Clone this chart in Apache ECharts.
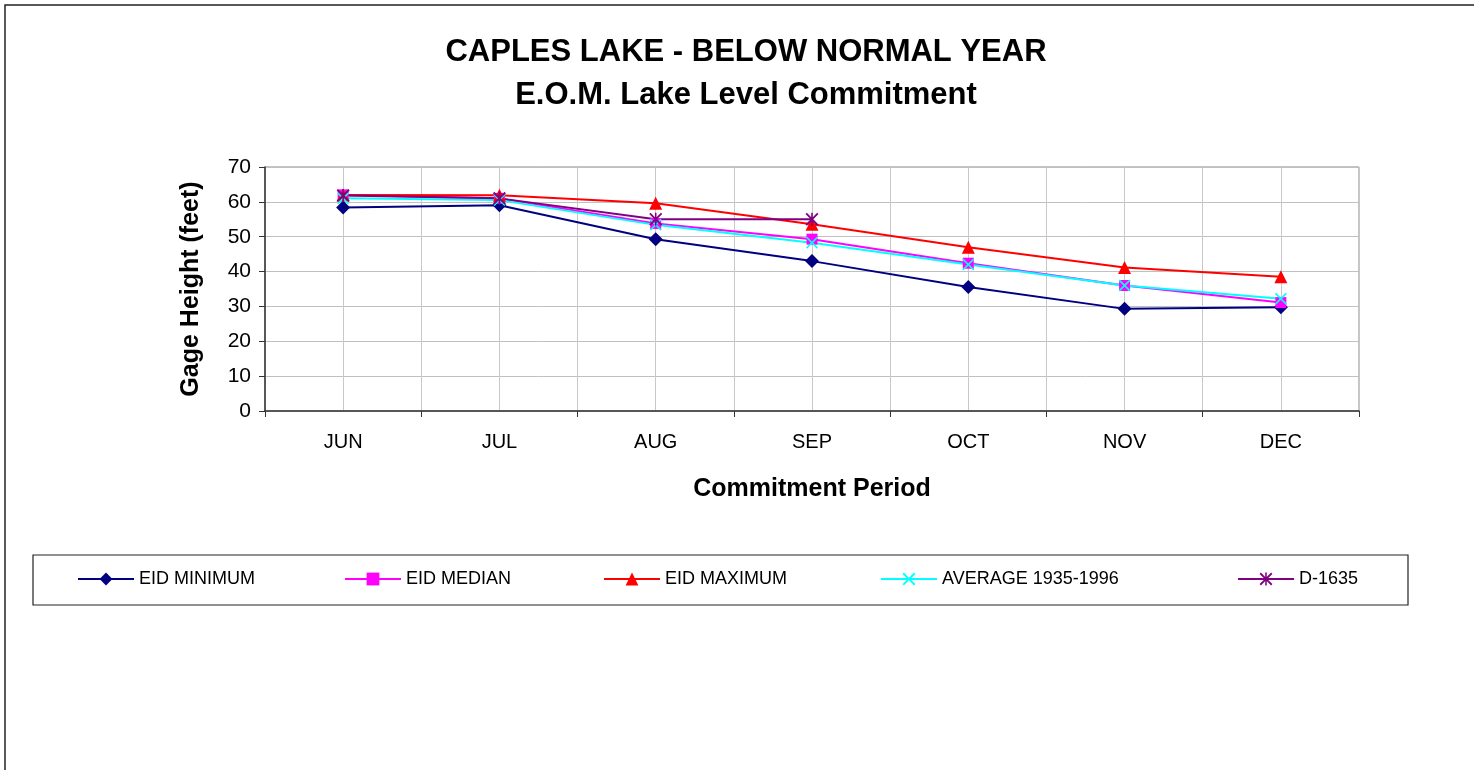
<!DOCTYPE html>
<html>
<head>
<meta charset="utf-8">
<title>Caples Lake - Below Normal Year</title>
<script src="https://cdn.jsdelivr.net/npm/echarts@6/dist/echarts.min.js"></script>
<style>
  html, body { margin: 0; padding: 0; background: #fff; }
  #chart { width: 1474px; height: 770px; }
</style>
</head>
<body>
<div id="chart"></div>
<script>
// 数据
var months = ['JUN', 'JUL', 'AUG', 'SEP', 'OCT', 'NOV', 'DEC']
var eidMinimum = [58.4, 59.0, 49.3, 43.0, 35.6, 29.3, 29.8]
var eidMedian = [62.0, 61.0, 53.8, 49.3, 42.4, 36.0, 31.1]
var eidMaximum = [62.0, 61.9, 59.6, 53.6, 47.0, 41.2, 38.5]
var average1935 = [61.0, 60.5, 53.4, 48.3, 42.0, 36.0, 32.2]
var d1635 = [61.8, 61.0, 55.0, 55.0, null, null, null]
var seriesNames = ['EID MINIMUM', 'EID MEDIAN', 'EID MAXIMUM', 'AVERAGE 1935-1996', 'D-1635']

var xMark = 'path://M0,1 L1,0 L5,4 L9,0 L10,1 L6,5 L10,9 L9,10 L5,6 L1,10 L0,9 L4,5 Z'
var starMark = xMark + ' M4.4,0 L5.6,0 L5.6,10 L4.4,10 Z'
var font = 'Liberation Sans, Arial, sans-serif'

var chart = echarts.init(document.getElementById('chart'))

function lineSeries(name, data, color, symbol, size) {
  return {
    name: name,
    type: 'line',
    xAxisIndex: 0,
    data: data,
    symbol: symbol,
    symbolSize: size,
    connectNulls: false,
    animation: false,
    lineStyle: { color: color, width: 2 },
    itemStyle: { color: color }
  }
}

// 每个图例单独放置
var legendLeft = [77, 344, 603, 880, 1237]
var legends = seriesNames.map(function (n, i) {
  return {
    data: [n],
    left: legendLeft[i],
    top: 570,
    padding: 0,
    itemWidth: 56,
    itemHeight: 16,
    itemGap: 0,
    selectedMode: false,
    textStyle: { fontFamily: font, fontSize: 18, color: '#000' }
  }
})

chart.setOption({
  backgroundColor: '#fff',
  title: {
    text: 'CAPLES LAKE - BELOW NORMAL YEAR\nE.O.M. Lake Level Commitment',
    left: 741,
    textAlign: 'center',
    top: 26,
    textStyle: { fontFamily: font, fontSize: 31, fontWeight: 'bold', color: '#000', lineHeight: 43 }
  },
  graphic: [
    { type: 'rect', shape: { x: 5, y: 5, width: 1520, height: 820 }, style: { fill: 'none', stroke: '#222', lineWidth: 1.5 }, silent: true },
    { type: 'rect', shape: { x: 33, y: 555, width: 1375, height: 50 }, style: { fill: 'none', stroke: '#222', lineWidth: 1.2 }, silent: true }
  ],
  legend: legends,
  grid: {
    left: 265,
    right: 115,
    top: 167,
    bottom: 359,
    show: true,
    borderColor: '#888',
    borderWidth: 1
  },
  xAxis: [
    {
      type: 'category',
      data: months,
      boundaryGap: true,
      name: 'Commitment Period',
      nameLocation: 'middle',
      nameGap: 66,
      nameTextStyle: { fontFamily: font, fontSize: 25, fontWeight: 'bold', color: '#000' },
      axisLine: { lineStyle: { color: '#333', width: 1.5 } },
      axisTick: { show: true, length: 6, lineStyle: { color: '#333' } },
      axisLabel: { fontFamily: font, fontSize: 20, color: '#000', margin: 21 },
      splitLine: { show: false }
    },
    {
      // 每半个类目一条竖网格线
      type: 'value',
      min: 0,
      max: 14,
      interval: 1,
      position: 'bottom',
      axisLine: { show: false },
      axisTick: { show: false },
      axisLabel: { show: false },
      splitLine: { show: true, lineStyle: { color: '#c8c8c8', width: 1 } }
    }
  ],
  yAxis: {
    type: 'value',
    min: 0,
    max: 70,
    interval: 10,
    name: 'Gage Height (feet)',
    nameLocation: 'middle',
    nameGap: 61,
    nameTextStyle: { fontFamily: font, fontSize: 25, fontWeight: 'bold', color: '#000' },
    axisLine: { show: true, lineStyle: { color: '#333', width: 1.5 } },
    axisTick: { show: true, length: 6, lineStyle: { color: '#333' } },
    axisLabel: { fontFamily: font, fontSize: 21, color: '#000', margin: 14 },
    splitLine: { show: true, lineStyle: { color: '#c0c0c0', width: 1 } }
  },
  series: [
    lineSeries(seriesNames[0], eidMinimum, '#000080', 'diamond', 14),
    lineSeries(seriesNames[1], eidMedian, '#ff00ff', 'rect', 11),
    lineSeries(seriesNames[2], eidMaximum, '#ff0000', 'triangle', 13),
    lineSeries(seriesNames[3], average1935, '#00ffff', xMark, 12),
    lineSeries(seriesNames[4], d1635, '#800080', starMark, 13)
  ]
})
</script>
</body>
</html>
